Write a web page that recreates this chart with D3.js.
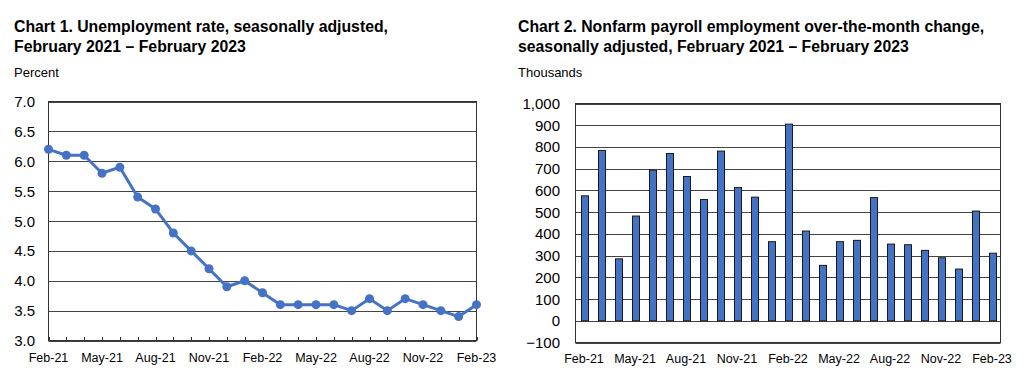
<!DOCTYPE html>
<html>
<head>
<meta charset="utf-8">
<script src="https://cdn.jsdelivr.net/npm/d3@7"></script>
<style>
  body { margin: 0; background: #fff; }
  svg { display: block; font-family: "Liberation Sans", Arial, sans-serif; }
</style>
</head>
<body>
<svg id="chart" width="1024" height="387"></svg>
<script>
// months shown on both charts
var months = ["Feb-21","Mar-21","Apr-21","May-21","Jun-21","Jul-21","Aug-21","Sep-21","Oct-21","Nov-21","Dec-21","Jan-22",
  "Feb-22","Mar-22","Apr-22","May-22","Jun-22","Jul-22","Aug-22","Sep-22","Oct-22","Nov-22","Dec-22","Jan-23","Feb-23"];
var monthLabels = ["Feb-21","May-21","Aug-21","Nov-21","Feb-22","May-22","Aug-22","Nov-22","Feb-23"];

// chart 1: unemployment rate, percent
var unempRate = [6.2,6.1,6.1,5.8,5.9,5.4,5.2,4.8,4.5,4.2,3.9,4.0,3.8,3.6,3.6,3.6,3.6,3.5,3.7,3.5,3.7,3.6,3.5,3.4,3.6];
var unempTicks = [3.0,3.5,4.0,4.5,5.0,5.5,6.0,6.5,7.0];

// chart 2: nonfarm payroll change, thousands
var payrollChange = [575,784,285,482,693,770,664,558,781,613,569,364,905,413,255,364,370,567,353,350,324,290,238,505,311];
var payrollTicks = [-100,0,100,200,300,400,500,600,700,800,900,1000];

var blue = "#4472c4";
var svg = d3.select("#chart");

function titleBlock(x, lines, unit) {
  var g = svg.append("g");
  lines.forEach(function(t, i) {
    g.append("text").attr("x", x).attr("y", 32 + i * 20)
      .attr("font-size", 15.8).attr("font-weight", "bold").attr("fill", "#000").text(t);
  });
  g.append("text").attr("x", x).attr("y", 77).attr("font-size", 13).attr("fill", "#000").text(unit);
}

// ---- chart 1 ----
titleBlock(14, ["Chart 1. Unemployment rate, seasonally adjusted,", "February 2021 \u2013 February 2023"], "Percent");

var x1 = d3.scalePoint().domain(months).range([48.5, 476.5]);
var y1 = d3.scaleLinear().domain([3, 7]).range([340.5, 101.5]);

var g1 = svg.append("g");
g1.selectAll("line.grid").data(unempTicks).enter().append("line")
  .attr("class", "grid")
  .attr("x1", 48.5).attr("x2", 476.5)
  .attr("y1", function(d) { return Math.round(y1(d)) + 0.5; })
  .attr("y2", function(d) { return Math.round(y1(d)) + 0.5; })
  .attr("stroke", "#444").attr("stroke-width", 1);

g1.append("rect").attr("x", 48.5).attr("y", 101.5).attr("width", 428).attr("height", 239)
  .attr("fill", "none").attr("stroke", "#333").attr("stroke-width", 1);

// small inner ticks on the x axis
g1.selectAll("line.tick").data(months).enter().append("line")
  .attr("x1", function(d) { return Math.round(x1(d)) + 0.5; })
  .attr("x2", function(d) { return Math.round(x1(d)) + 0.5; })
  .attr("y1", 340.5).attr("y2", 337)
  .attr("stroke", "#333");

g1.selectAll("text.ylab").data(unempTicks).enter().append("text")
  .attr("x", 35).attr("y", function(d) { return y1(d) + 5.5; })
  .attr("text-anchor", "end").attr("font-size", 15).attr("fill", "#000")
  .text(function(d) { return d.toFixed(1); });

g1.selectAll("text.xlab").data(monthLabels).enter().append("text")
  .attr("x", function(d) { return x1(d); }).attr("y", 362)
  .attr("text-anchor", "middle").attr("font-size", 12.5).attr("fill", "#000")
  .text(function(d) { return d; });

var line = d3.line()
  .x(function(d, i) { return x1(months[i]); })
  .y(function(d) { return y1(d); });

g1.append("path").datum(unempRate).attr("d", line)
  .attr("fill", "none").attr("stroke", blue).attr("stroke-width", 3).attr("stroke-linejoin", "round");

g1.selectAll("circle").data(unempRate).enter().append("circle")
  .attr("cx", function(d, i) { return x1(months[i]); })
  .attr("cy", function(d) { return y1(d); })
  .attr("r", 4.5).attr("fill", blue);

// ---- chart 2 ----
titleBlock(518, ["Chart 2. Nonfarm payroll employment over-the-month change,", "seasonally adjusted, February 2021 \u2013 February 2023"], "Thousands");

var x2 = d3.scaleBand().domain(months).range([575.5, 1000.5]);
var y2 = d3.scaleLinear().domain([-100, 1000]).range([342.5, 103.5]);

var g2 = svg.append("g");
g2.selectAll("line.grid").data(payrollTicks).enter().append("line")
  .attr("x1", 575.5).attr("x2", 1000.5)
  .attr("y1", function(d) { return Math.round(y2(d)) + 0.5; })
  .attr("y2", function(d) { return Math.round(y2(d)) + 0.5; })
  .attr("stroke", "#444").attr("stroke-width", 1);

g2.append("rect").attr("x", 575.5).attr("y", 103.5).attr("width", 425).attr("height", 239)
  .attr("fill", "none").attr("stroke", "#333").attr("stroke-width", 1);

g2.selectAll("rect.bar").data(payrollChange).enter().append("rect")
  .attr("class", "bar")
  .attr("x", function(d, i) { return Math.round(x2(months[i]) + x2.bandwidth() / 2 - 3.5) + 0.5; })
  .attr("width", 7)
  .attr("y", function(d) { return y2(Math.max(0, d)); })
  .attr("height", function(d) { return Math.abs(y2(d) - y2(0)); })
  .attr("fill", blue).attr("stroke", "#1a1a1a").attr("stroke-width", 1);

g2.selectAll("text.ylab").data(payrollTicks).enter().append("text")
  .attr("x", 560).attr("y", function(d) { return y2(d) + 5.5; })
  .attr("text-anchor", "end").attr("font-size", 15).attr("fill", "#000")
  .text(function(d) { return d3.format(",")(d); });

g2.selectAll("text.xlab").data(monthLabels).enter().append("text")
  .attr("x", function(d) { return x2(d) + x2.bandwidth() / 2; }).attr("y", 363)
  .attr("text-anchor", "middle").attr("font-size", 12.5).attr("fill", "#000")
  .text(function(d) { return d; });
</script>
</body>
</html>
